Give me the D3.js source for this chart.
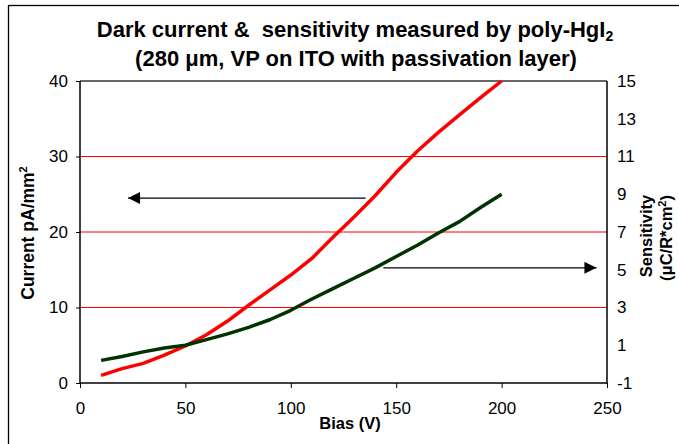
<!DOCTYPE html>
<html>
<head>
<meta charset="utf-8">
<script src="https://cdn.jsdelivr.net/npm/d3@7"></script>
<style>
  html, body { margin: 0; padding: 0; background: #fff; }
  svg { display: block; font-family: Arial, "Liberation Sans", sans-serif; }
  text { white-space: pre; }
</style>
</head>
<body>
<svg id="chart" width="679" height="444"></svg>
<script>
// ---- data ----
const bias = [10, 20, 30, 40, 50, 60, 70, 80, 90, 100, 110, 120, 130, 140, 150, 160, 170, 180, 190, 200];
const darkCurrent = [1.0, 1.9, 2.6, 3.7, 4.9, 6.4, 8.2, 10.3, 12.3, 14.3, 16.5, 19.3, 22.0, 24.8, 27.9, 30.7, 33.2, 35.5, 37.8, 40.0];
const sensitivity = [0.2, 0.4, 0.65, 0.85, 1.0, 1.3, 1.6, 1.95, 2.35, 2.85, 3.45, 4.0, 4.55, 5.1, 5.7, 6.3, 6.95, 7.55, 8.3, 9.0];
const xTicks = [0, 50, 100, 150, 200, 250];
const leftTicks = [0, 10, 20, 30, 40];
const rightTicks = [-1, 1, 3, 5, 7, 9, 11, 13, 15];
const gridValues = [10, 20, 30];
const titleLine1 = "Dark current &  sensitivity measured by poly-HgI";
const titleLine2 = "(280 μm, VP on ITO with passivation layer)";
const xTitle = "Bias (V)";
const leftTitle = "Current pA/mm";
const rightTitle1 = "Sensitivity";
const rightTitle2 = "(μC/R*cm";
// arrows: [fromBias, toBias, value]
const leftArrow = [135.5, 22.8, 24.5];
const rightArrow = [143.9, 245, 5.1];

const svg = d3.select("#chart");
const L = 80, R = 607, T = 81, B = 383;
const x = d3.scaleLinear([0, 250], [L, R]);
const yL = d3.scaleLinear([0, 40], [B, T]);
const yR = d3.scaleLinear([-1, 15], [B, T]);
const fmt = d => String(d);

// outer frame
svg.append("rect").attr("x", 8.5).attr("y", 5.5).attr("width", 700).attr("height", 500)
  .attr("fill", "none").attr("stroke", "#000").attr("stroke-width", 1.3);

// gridlines
svg.append("g").selectAll("line").data(gridValues).join("line")
  .attr("x1", L).attr("x2", R).attr("y1", d => yL(d)).attr("y2", d => yL(d))
  .attr("stroke", "#ff0000").attr("stroke-width", 1);

// top border of plot
svg.append("line").attr("x1", L).attr("x2", R).attr("y1", T).attr("y2", T)
  .attr("stroke", "#333").attr("stroke-width", 1.5);

const tickFont = g => g.selectAll("text").attr("font-size", 17).attr("fill", "#000")
  .attr("font-family", "Arial, 'Liberation Sans', sans-serif");

// left axis
const gl = svg.append("g").attr("transform", `translate(${L},0)`);
gl.call(d3.axisLeft(yL).tickValues(d3.range(0, 40.01, 2)).tickSize(-4).tickFormat(""));
gl.call(d3.axisLeft(yL).tickValues(leftTicks).tickSize(4).tickPadding(8).tickFormat(fmt));
gl.select(".domain").remove();
gl.append("line").attr("x1", 0).attr("x2", 0).attr("y1", T).attr("y2", B + 0.5).attr("stroke", "#000").attr("stroke-width", 1.5);
gl.call(tickFont);
gl.selectAll("line").attr("stroke", "#000");

// right axis
const gr = svg.append("g").attr("transform", `translate(${R},0)`);
gr.call(d3.axisRight(yR).tickValues(d3.range(-1, 15.01, 0.4)).tickSize(-4).tickFormat(""));
gr.call(d3.axisRight(yR).tickValues(rightTicks).tickSize(0).tickPadding(10).tickFormat(fmt));
gr.select(".domain").remove();
gr.append("line").attr("x1", 0).attr("x2", 0).attr("y1", T).attr("y2", B + 0.5).attr("stroke", "#000").attr("stroke-width", 1.5);
gr.call(tickFont);
gr.selectAll("line").attr("stroke", "#000");

// bottom axis
const gb = svg.append("g").attr("transform", `translate(0,${B})`);
gb.call(d3.axisBottom(x).tickValues(xTicks).tickSize(5).tickPadding(14).tickFormat(fmt));
gb.select(".domain").remove();
gb.append("line").attr("x1", L).attr("x2", R).attr("y1", 0).attr("y2", 0).attr("stroke", "#000").attr("stroke-width", 1.5);
gb.call(tickFont);
gb.selectAll("line").attr("stroke", "#000");

// lines
const data = bias.map((b, i) => ({b, c: darkCurrent[i], s: sensitivity[i]}));
svg.append("path").datum(data)
  .attr("d", d3.line().x(d => x(d.b)).y(d => yL(d.c)))
  .attr("fill", "none").attr("stroke", "#ff0000").attr("stroke-width", 3.5).attr("stroke-linejoin", "round");
svg.append("path").datum(data)
  .attr("d", d3.line().x(d => x(d.b)).y(d => yR(d.s)))
  .attr("fill", "none").attr("stroke", "#003300").attr("stroke-width", 3.5).attr("stroke-linejoin", "round");

// arrows
const defs = svg.append("defs");
defs.append("marker").attr("id", "ah").attr("viewBox", "0 0 10 10").attr("refX", 10).attr("refY", 5)
  .attr("markerWidth", 14).attr("markerHeight", 12).attr("markerUnits", "userSpaceOnUse").attr("orient", "auto")
  .append("path").attr("d", "M0,0 L10,5 L0,10 Z").attr("fill", "#000");
svg.append("line").attr("x1", x(leftArrow[0])).attr("x2", x(leftArrow[1]))
  .attr("y1", yL(leftArrow[2])).attr("y2", yL(leftArrow[2]))
  .attr("stroke", "#000").attr("stroke-width", 1.2).attr("marker-end", "url(#ah)");
svg.append("line").attr("x1", x(rightArrow[0])).attr("x2", x(rightArrow[1]))
  .attr("y1", yR(rightArrow[2])).attr("y2", yR(rightArrow[2]))
  .attr("stroke", "#000").attr("stroke-width", 1.2).attr("marker-end", "url(#ah)");

// titles
const t1 = svg.append("text").attr("x", 355).attr("y", 37).attr("text-anchor", "middle")
  .attr("font-weight", "bold").attr("font-size", 22).text(titleLine1);
t1.append("tspan").attr("font-size", 14).attr("dy", 4).text("2");
svg.append("text").attr("x", 356).attr("y", 66).attr("text-anchor", "middle")
  .attr("font-weight", "bold").attr("font-size", 22).text(titleLine2);

svg.append("text").attr("x", 350).attr("y", 429).attr("text-anchor", "middle")
  .attr("font-weight", "bold").attr("font-size", 16.5).text(xTitle);

const lt = svg.append("text").attr("transform", "translate(34,233) rotate(-90)").attr("text-anchor", "middle")
  .attr("font-weight", "bold").attr("font-size", 17.5).text(leftTitle);
lt.append("tspan").attr("font-size", 11).attr("dy", -7).text("2");

svg.append("text").attr("transform", "translate(652,236) rotate(-90)").attr("text-anchor", "middle")
  .attr("font-weight", "bold").attr("font-size", 16.5).text(rightTitle1);
const rt = svg.append("text").attr("transform", "translate(672,238) rotate(-90)").attr("text-anchor", "middle")
  .attr("font-weight", "bold").attr("font-size", 16.5).text(rightTitle2);
rt.append("tspan").attr("font-size", 11).attr("dy", -6).text("2");
rt.append("tspan").attr("dy", 6).text(")");
</script>
</body>
</html>
